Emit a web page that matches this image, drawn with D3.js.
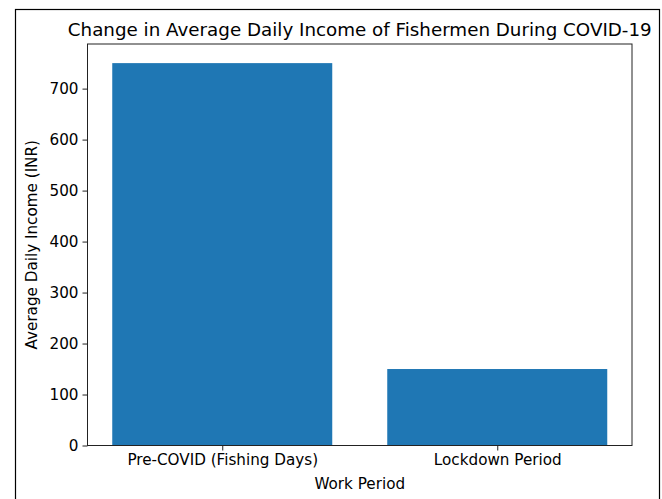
<!DOCTYPE html>
<html><head><meta charset="utf-8">
<script src="https://cdn.jsdelivr.net/npm/d3@7"></script>
<style>body{margin:0;background:#fff}svg{display:block}text{font-family:"DejaVu Sans",sans-serif;fill:#000}</style>
</head><body><svg id="c" width="662" height="499"></svg>
<script>
const categories = ["Pre-COVID (Fishing Days)", "Lockdown Period"];
const values = [750, 150];
const yTicks = [0, 100, 200, 300, 400, 500, 600, 700];
const title = "Change in Average Daily Income of Fishermen During COVID-19";
const xLabel = "Work Period";
const yLabel = "Average Daily Income (INR)";

const svg = d3.select("#c");
svg.append("rect").attr("x",15.5).attr("y",9.5).attr("width",644).attr("height",500)
  .attr("fill","none").attr("stroke","#000").attr("stroke-width",1.2);

const L=87.5, R=632, T=44, B=445.5;
const x = d3.scaleLinear().domain([-0.49, 1.49]).range([L, R]);
const y = d3.scaleLinear().domain([0, 787.5]).range([B, T]);

svg.selectAll(".bar").data(values).enter().append("rect")
  .attr("x",(d,i)=>x(i-0.4)).attr("width",(d,i)=>x(i+0.4)-x(i-0.4))
  .attr("y",d=>y(d)).attr("height",d=>B-y(d)).attr("fill","#1f77b4");

const ya = d3.axisLeft(y).tickValues(yTicks).tickSize(5).tickPadding(4).tickFormat(d3.format("d"));
const gy = svg.append("g").attr("transform",`translate(${L},0)`).call(ya);
const xa = d3.axisBottom(x).tickValues([0,1]).tickSize(5).tickPadding(4).tickFormat(i=>categories[i]);
const gx = svg.append("g").attr("transform",`translate(0,${B})`).call(xa);
[gx,gy].forEach(g=>{g.select(".domain").remove();g.selectAll("text").attr("font-size","15.2px").attr("font-family","DejaVu Sans");g.selectAll("line").attr("stroke","#222").attr("stroke-width",1);});

svg.append("rect").attr("x",L).attr("y",T).attr("width",R-L).attr("height",B-T)
  .attr("fill","none").attr("stroke","#222").attr("stroke-width",1);

svg.append("text").attr("x",(L+R)/2).attr("y",36).attr("text-anchor","middle").attr("font-size","18.3px").text(title);
svg.append("text").attr("x",(L+R)/2).attr("y",489).attr("text-anchor","middle").attr("font-size","15.2px").text(xLabel);
svg.append("text").attr("transform",`translate(37,${(T+B)/2}) rotate(-90)`).attr("text-anchor","middle").attr("font-size","15.2px").text(yLabel);
</script></body></html>
